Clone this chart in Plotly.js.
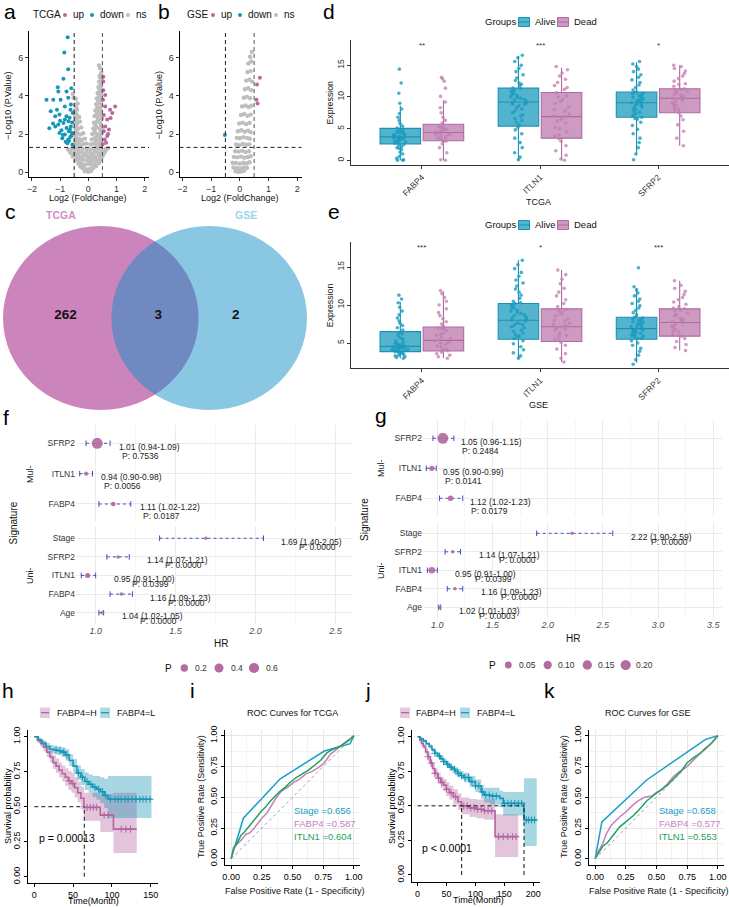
<!DOCTYPE html>
<html>
<head>
<meta charset="utf-8">
<script src="https://cdn.plot.ly/plotly-3.0.1.min.js"></script>
<style>
html,body{margin:0;padding:0;background:#ffffff;}
#fig{width:729px;height:907px;}
</style>
</head>
<body>
<div id="fig"></div>
<script>
/* ================= DATA ================= */
// a/b volcano
const fcCut = 0.5, pCut = 0.05;
const tcgaDownX = [-0.73,-0.85,-0.71,-0.88,-1.08,-1.06,-1.24,-1.48,-1.33,-0.98,-0.77,-0.60,-0.71,-0.83,-1.11,-1.17,-1.02,-1.06,-1.02,-1.17,-0.83,-0.65,-0.71,-0.88,-0.77,-0.63,-0.62,-0.68,-0.60,-0.95,-0.77,-0.83,-0.70,-0.56,-0.58,-0.66,-0.74,-0.92,-1.25,-1.38,-0.55,-0.62,-0.69,-0.57,-0.64,-0.80,-0.90,-1.00];
const tcgaDownY = [7.07,6.27,5.40,4.90,4.45,4.23,3.80,3.80,3.20,3.80,4.23,4.40,3.90,3.45,3.28,2.93,3.02,2.50,2.06,2.40,1.98,2.24,1.72,2.58,2.93,3.28,2.40,1.64,1.90,2.20,2.32,2.76,2.67,1.45,2.05,2.85,1.52,1.78,2.55,2.30,3.10,3.55,2.15,2.60,1.85,1.60,1.95,2.70];
const tcgaUpX = [0.53,0.53,0.53,0.77,0.95,0.60,0.55,0.67,0.60,0.55,0.73,0.67,0.58,0.63,0.51,0.79,0.52,0.60,0.70,0.85];
const tcgaUpY = [5.00,4.76,4.30,3.28,3.45,3.45,3.00,2.76,2.40,2.15,2.24,1.90,1.72,1.55,1.46,2.84,3.80,4.05,2.00,3.10];
const tcgaNsX = [-0.12,0.00,0.10,-0.05,0.06,-0.20,0.18,-0.28,0.28,
 -0.35,-0.22,-0.10,0.02,0.14,0.26,0.38,-0.45,-0.32,-0.18,-0.05,0.08,0.20,0.33,0.46,
 -0.55,-0.42,-0.28,-0.15,-0.02,0.12,0.25,0.38,0.50,-0.62,-0.48,-0.35,-0.22,-0.08,0.05,0.18,0.31,0.44,0.57,
 -0.72,-0.60,-0.47,-0.34,-0.20,-0.06,0.08,0.21,0.34,0.47,0.62,0.70,
 -0.48,-0.38,-0.27,-0.16,-0.06,0.08,0.18,0.29,0.40,0.49,-0.45,-0.34,-0.22,-0.12,0.12,0.23,0.34,0.45,
 -0.49,-0.39,-0.28,-0.18,0.14,0.25,0.36,0.47,-0.46,-0.36,-0.25,0.18,0.29,0.40,0.49,
 -0.48,-0.38,-0.30,0.20,0.31,0.42,-0.47,-0.39,-0.32,0.22,0.33,0.44,0.49,
 -0.48,-0.40,0.25,0.35,0.45,-0.46,-0.38,0.28,0.38,0.47,
 -0.52,-0.44,0.30,0.40,0.48,-0.55,0.33,0.43,
 0.36,0.45,0.38,0.47,0.40,0.46,0.42,0.38,
 -0.08,0.05,0.15,-0.15,-0.30,0.30,0.42,-0.40,-0.25,0.00,0.15,-0.50,0.52,-0.66,0.60,-0.55,-0.42,0.44,0.30,-0.43,-0.30,0.28,0.40,-0.44,0.30,0.42,-0.42,0.22,0.44,-0.42,0.25,0.46,-0.43,0.36,-0.44,0.30,0.40,0.32,0.42,-0.43,0.35,0.44,0.38,0.46,0.40,0.43,0.44];
const tcgaNsY = [0.05,0.02,0.06,0.15,0.18,0.20,0.22,0.30,0.32,
 0.45,0.42,0.40,0.44,0.42,0.45,0.48,0.62,0.60,0.65,0.62,0.60,0.64,0.62,0.66,
 0.82,0.85,0.80,0.86,0.82,0.85,0.80,0.86,0.84,1.00,1.02,0.98,1.03,1.00,1.02,0.98,1.03,1.00,1.02,
 1.22,1.18,1.20,1.16,1.22,1.18,1.20,1.16,1.22,1.18,1.22,1.26,
 1.45,1.50,1.42,1.48,1.50,1.45,1.50,1.44,1.50,1.46,1.72,1.75,1.70,1.76,1.72,1.78,1.70,1.76,
 2.00,2.05,1.98,2.04,2.00,2.06,1.98,2.04,2.32,2.28,2.35,2.30,2.36,2.28,2.34,
 2.62,2.58,2.66,2.60,2.66,2.58,2.92,2.96,2.90,2.94,2.90,2.98,2.80,
 3.22,3.28,3.24,3.30,3.20,3.55,3.60,3.56,3.62,3.50,
 3.90,3.85,3.86,3.92,3.82,4.10,4.15,4.20,
 4.45,4.50,4.75,4.80,5.05,5.20,5.45,5.60,
 0.10,0.12,0.35,0.32,0.52,0.55,0.72,0.72,0.72,0.72,0.74,0.92,0.94,1.10,1.10,1.35,1.34,1.35,1.32,1.60,1.62,1.62,1.60,1.88,1.88,1.90,2.18,2.18,2.20,2.48,2.48,2.46,2.78,2.78,3.08,3.10,3.10,3.40,3.38,3.40,3.72,3.70,4.02,4.05,4.32,4.62,4.92];
const gseDownX = [-0.52], gseDownY = [1.95];
const gseUpX = [0.70,0.60,0.58,0.62], gseUpY = [4.95,4.60,3.80,3.60];
const gseNsX = [-0.15,-0.05,0.05,0.15,-0.22,-0.10,0.02,0.14,0.25,-0.25,-0.13,0.00,0.12,0.24,0.34,-0.20,-0.08,0.04,0.16,0.28,0.38,-0.16,-0.04,0.08,0.20,0.32,-0.13,-0.02,0.10,0.22,0.33,-0.10,0.01,0.13,0.25,0.35,-0.07,0.05,0.17,0.29,0.38,-0.02,0.10,0.22,0.34,0.04,0.15,0.27,0.38,0.08,0.20,0.31,0.40,0.14,0.25,0.36,0.18,0.29,0.40,0.22,0.33,0.43,0.27,0.38,0.30,0.40,0.36,0.42];
const gseNsY = [0.05,0.02,0.04,0.08,0.25,0.22,0.20,0.25,0.22,0.50,0.48,0.45,0.50,0.46,0.52,0.80,0.78,0.82,0.76,0.80,0.84,1.10,1.08,1.12,1.06,1.10,1.45,1.42,1.48,1.44,1.46,1.80,1.78,1.84,1.80,1.76,2.15,2.20,2.12,2.18,2.10,2.55,2.60,2.52,2.58,3.00,3.05,2.96,3.02,3.45,3.50,3.42,3.48,3.90,3.95,3.88,4.35,4.40,4.30,4.80,4.85,4.75,5.25,5.30,5.70,5.80,6.05,6.30];

// c venn
const vennSets = ['TCGA', 'GSE'];
const vennCounts = [262, 3, 2]; // TCGA only, both, GSE only

// d/e boxplots
const genes = ['FABP4', 'ITLN1', 'SFRP2'];
const tcgaAliveQ1 = [2.6, 5.4, 6.8], tcgaAliveMed = [3.7, 9.2, 9.1], tcgaAliveQ3 = [5.05, 11.4, 10.8], tcgaAliveLo = [0, 0.1, 0.9], tcgaAliveHi = [8.6, 16.5, 15.5];
const tcgaDeadQ1 = [3.1, 3.5, 7.5], tcgaDeadMed = [4.4, 6.9, 9.8], tcgaDeadQ3 = [5.7, 10.7, 11.3], tcgaDeadLo = [0, 0, 2.3], tcgaDeadHi = [9.5, 14.6, 15.0];
const gseAliveQ1 = [3.86, 5.5, 5.5], gseAliveMed = [4.56, 8.0, 6.9], gseAliveQ3 = [6.5, 10.2, 8.4], gseAliveLo = [3.0, 3.0, 2.4], gseAliveHi = [10.4, 15.9, 12.2];
const gseDeadQ1 = [3.95, 5.2, 5.9], gseDeadMed = [5.35, 7.15, 7.7], gseDeadQ3 = [7.1, 9.5, 9.5], gseDeadLo = [3.0, 2.5, 4.0], gseDeadHi = [11.8, 14.6, 13.2];
const tcgaFabp4Alive = [0,0,0.1,0.3,0.6,1.0,1.3,1.7,1.9,2.2,2.5,2.7,2.9,3.1,3.3,3.5,3.6,3.7,3.8,3.9,4.1,4.3,4.5,4.7,4.9,5.1,5.4,5.8,6.3,6.8,7.4,8.1,9.0,10.6,12.2,14.4,2.8,3.0,3.2,3.4,3.55,3.65,3.75,3.85,4.0,4.2,4.4,4.6,2.4,2.0];
const tcgaFabp4Dead = [0,0.1,1.2,2.0,2.6,3.0,3.2,3.5,3.8,4.0,4.2,4.4,4.6,4.8,5.0,5.3,5.6,5.9,6.3,6.8,7.5,8.3,9.2,10.1,11.4,12.5,12.9,13.1,3.3,3.7,4.1,4.5,4.9,5.2,3.0,4.3];
const tcgaItln1Alive = [0.1,0.5,1.2,2.0,2.8,3.5,4.2,4.8,5.2,5.6,6.0,6.6,7.2,7.8,8.3,8.8,9.1,9.3,9.6,9.9,10.2,10.5,10.8,11.1,11.4,11.8,12.2,12.6,13.0,13.5,14.0,14.5,15.0,15.6,16.2,16.6,6.3,7.0,7.5,8.1,8.6,9.0,9.5,10.0,10.4,10.9,11.3,9.8,8.9,12.0];
const tcgaItln1Dead = [0,0.2,0.8,1.5,2.3,3.0,3.4,3.8,4.5,5.2,5.9,6.5,6.9,7.3,7.8,8.4,9.0,9.6,10.2,10.7,11.2,11.8,12.3,12.8,13.3,13.8,14.3,14.8,4.0,5.0,6.2,7.0,8.0,9.3,10.0,11.5];
const tcgaSfrp2Alive = [0.1,1.0,2.0,2.8,3.5,4.2,4.9,5.5,6.0,6.5,6.8,7.2,7.6,8.0,8.4,8.7,9.0,9.2,9.4,9.7,10.0,10.3,10.6,10.8,11.1,11.5,11.9,12.3,12.7,13.1,13.5,14.0,14.4,14.8,15.2,15.6,7.0,7.4,7.8,8.2,8.6,8.9,9.1,9.3,9.6,9.9,10.2,10.5,10.7,6.6];
const tcgaSfrp2Dead = [2.3,3.5,4.6,5.6,6.4,7.0,7.5,7.9,8.3,8.7,9.1,9.5,9.8,10.1,10.4,10.7,11.0,11.3,11.7,12.1,12.5,12.9,13.3,13.7,14.1,14.5,14.8,15.0,8.0,8.8,9.3,9.9,10.3,10.9,11.2,12.0];
const gseFabp4Alive = [3.0,3.1,3.2,3.4,3.5,3.6,3.7,3.8,3.9,4.0,4.1,4.2,4.3,4.4,4.5,4.6,4.7,4.9,5.1,5.3,5.5,5.8,6.1,6.4,6.7,7.0,7.3,7.6,7.9,8.3,8.7,9.2,9.7,10.3,10.8,11.3,3.85,3.95,4.05,4.15,4.25,4.35,4.45,4.55,4.65,4.8,5.0,5.6,6.2,3.3];
const gseFabp4Dead = [3.0,3.2,3.4,3.6,3.8,4.0,4.2,4.5,4.8,5.1,5.4,5.7,6.0,6.3,6.6,6.9,7.2,7.5,7.8,8.2,8.6,9.0,9.5,10.0,10.5,11.0,11.5,11.9,4.1,4.6,5.0,5.3,5.6,6.1,6.8,7.0];
const gseItln1Alive = [3.0,3.3,3.7,4.1,4.5,4.9,5.3,5.6,5.9,6.3,6.7,7.0,7.3,7.6,7.9,8.1,8.4,8.7,9.0,9.3,9.6,9.9,10.2,10.5,10.9,11.3,11.7,12.1,12.5,12.9,13.3,13.8,14.3,14.8,15.3,15.9,5.8,6.5,7.1,7.6,8.0,8.3,8.6,8.9,9.2,9.6,10.0,10.3,7.4,6.1];
const gseItln1Dead = [2.5,3.0,3.6,4.2,4.7,5.1,5.5,5.9,6.3,6.7,7.0,7.3,7.6,7.9,8.2,8.6,9.0,9.4,9.8,10.2,10.7,11.2,11.7,12.2,12.8,13.4,14.0,14.6,5.4,6.0,6.8,7.1,7.5,8.0,8.8,9.2];
const gseSfrp2Alive = [2.2,2.8,3.4,3.9,4.3,4.7,5.0,5.3,5.6,5.8,6.0,6.2,6.4,6.6,6.8,7.0,7.2,7.4,7.6,7.8,8.0,8.2,8.4,8.7,9.0,9.3,9.6,9.9,10.2,10.5,10.8,11.2,11.6,12.0,12.4,14.9,5.6,5.9,6.1,6.3,6.5,6.7,6.9,7.1,7.3,7.5,7.7,7.9,8.1,8.3];
const gseSfrp2Dead = [4.0,4.4,4.8,5.2,5.6,5.9,6.2,6.5,6.8,7.1,7.4,7.7,8.0,8.3,8.6,8.9,9.2,9.5,9.8,10.1,10.4,10.7,11.0,11.4,11.8,12.2,12.6,13.2,6.0,6.6,7.2,7.8,8.1,8.7,9.3,9.6];
const tcgaSig = ['**', '***', '*'];
const gseSig = ['***', '*', '***'];

// f/g forest
const mulNames = ['FABP4', 'ITLN1', 'SFRP2'];
const uniNames = ['Age', 'FABP4', 'ITLN1', 'SFRP2', 'Stage'];
const fMulHR = [1.11, 0.94, 1.01], fMulLo = [1.02, 0.90, 0.94], fMulHi = [1.22, 0.98, 1.09], fMulP = [0.0187, 0.0056, 0.7536];
const fUniHR = [1.04, 1.16, 0.95, 1.14, 1.69], fUniLo = [1.02, 1.09, 0.91, 1.07, 1.40], fUniHi = [1.05, 1.23, 1.00, 1.21, 2.05], fUniP = [0.0000, 0.0000, 0.0399, 0.0000, 0.0000];
const gMulHR = [1.12, 0.95, 1.05], gMulLo = [1.02, 0.90, 0.96], gMulHi = [1.23, 0.99, 1.15], gMulP = [0.0179, 0.0141, 0.2484];
const gUniHR = [1.02, 1.16, 0.95, 1.14, 2.22], gUniLo = [1.01, 1.09, 0.91, 1.07, 1.90], gUniHi = [1.03, 1.23, 1.00, 1.21, 2.59], gUniP = [0.0003, 0.0000, 0.0399, 0.0000, 0.0000];
const fLegendP = [0.2, 0.4, 0.6];
const gLegendP = [0.05, 0.10, 0.15, 0.20];

// h/j Kaplan-Meier
const tcgaHT = [0,4,8,12,16,20,24,28,32,36,40,44,48,52,56,60,64,85,102,132];
const tcgaHS = [1,0.975,0.95,0.925,0.89,0.855,0.815,0.79,0.76,0.735,0.71,0.685,0.665,0.635,0.60,0.56,0.495,0.44,0.34,0.34];
const tcgaHLo = [1,0.955,0.925,0.895,0.855,0.815,0.77,0.74,0.71,0.68,0.65,0.62,0.60,0.565,0.53,0.48,0.40,0.32,0.17,0.17];
const tcgaHHi = [1,0.995,0.98,0.96,0.93,0.9,0.865,0.845,0.815,0.795,0.775,0.755,0.74,0.71,0.68,0.645,0.6,0.59,0.6,0.6];
const tcgaLT = [0,5,10,15,20,25,30,35,40,45,50,55,60,65,70,75,80,85,90,95,151];
const tcgaLS = [1,0.975,0.955,0.93,0.91,0.905,0.9,0.89,0.87,0.83,0.79,0.74,0.71,0.68,0.66,0.64,0.625,0.607,0.58,0.553,0.553];
const tcgaLLo = [1,0.96,0.935,0.905,0.885,0.875,0.87,0.855,0.83,0.79,0.74,0.69,0.655,0.62,0.6,0.57,0.55,0.525,0.49,0.42,0.42];
const tcgaLHi = [1,0.99,0.975,0.955,0.94,0.935,0.93,0.925,0.91,0.875,0.84,0.795,0.77,0.745,0.73,0.72,0.72,0.71,0.7,0.72,0.72];
const tcgaHCens = [45,50,68,72,76,80,90,95,112,118,124];
const tcgaLCens = [28,33,38,42,57,62,68,73,78,83,88,92,98,104,108,112,117,121,126,131,136,140,144,149];
const tcgaMedianH = 64.4;
const gseHT = [0,4,7,10,14,18,22,26,30,35,40,45,50,55,62,70,76,90,102,115,134,174];
const gseHS = [1,0.975,0.952,0.93,0.89,0.855,0.81,0.77,0.735,0.70,0.67,0.65,0.62,0.595,0.566,0.53,0.499,0.485,0.475,0.465,0.277,0.277];
const gseHLo = [1,0.96,0.935,0.91,0.865,0.825,0.78,0.735,0.70,0.66,0.63,0.605,0.57,0.545,0.51,0.47,0.44,0.42,0.41,0.40,0.13,0.13];
const gseHHi = [1,0.99,0.97,0.95,0.915,0.885,0.84,0.805,0.77,0.74,0.71,0.695,0.67,0.645,0.62,0.59,0.56,0.55,0.545,0.55,0.44,0.44];
const gseLT = [0,5,10,15,20,25,30,35,40,45,50,55,60,65,70,75,80,90,100,110,115,125,142,148,184,206];
const gseLS = [1,0.985,0.97,0.95,0.93,0.905,0.88,0.86,0.84,0.82,0.80,0.78,0.765,0.75,0.735,0.72,0.705,0.675,0.645,0.60,0.578,0.57,0.554,0.518,0.398,0.398];
const gseLLo = [1,0.975,0.96,0.94,0.915,0.89,0.865,0.84,0.82,0.80,0.775,0.755,0.74,0.72,0.705,0.69,0.67,0.635,0.60,0.55,0.525,0.51,0.49,0.43,0.21,0.21];
const gseLHi = [1,0.995,0.98,0.96,0.945,0.92,0.895,0.88,0.86,0.84,0.825,0.805,0.79,0.78,0.765,0.75,0.74,0.715,0.69,0.65,0.63,0.63,0.61,0.60,0.70,0.70];
const gseHCens = [18,24,30,36,42,50,58,66,80,86,92,98,104,110,116,122,128,140,148,156,164,170];
const gseLCens = [30,38,45,52,58,64,70,76,82,88,94,100,106,112,118,124,130,136,150,156,162,168,174,180,188,192,197,202];
const gseMedianH = 76.3, gseMedianL = 184;
const tcgaP = 'p = 0.00013', gseP = 'p < 0.0001';

// i/k ROC
const tcgaStageFpr = [0, 0.10, 0.40, 0.76, 0.97, 1.0], tcgaStageTpr = [0, 0.33, 0.65, 0.875, 0.935, 1.0];
const tcgaFabp4Fpr = [0,0.02,0.04,0.06,0.09,0.12,0.15,0.18,0.21,0.25,0.29,0.33,0.37,0.41,0.46,0.51,0.56,0.61,0.66,0.71,0.76,0.81,0.86,0.91,0.96,1.0];
const tcgaFabp4Tpr = [0,0.08,0.11,0.13,0.16,0.20,0.21,0.24,0.28,0.33,0.37,0.44,0.50,0.55,0.58,0.62,0.65,0.69,0.71,0.74,0.78,0.85,0.89,0.93,0.97,1.0];
const tcgaItln1Fpr = [0,0.02,0.05,0.08,0.11,0.14,0.17,0.20,0.24,0.28,0.32,0.36,0.40,0.44,0.48,0.53,0.58,0.63,0.68,0.73,0.78,0.83,0.88,0.93,0.97,1.0];
const tcgaItln1Tpr = [0,0.09,0.13,0.19,0.22,0.26,0.30,0.33,0.38,0.42,0.47,0.51,0.55,0.58,0.62,0.66,0.69,0.72,0.76,0.80,0.86,0.89,0.91,0.94,0.97,1.0];
const gseStageFpr = [0, 0.055, 0.42, 0.90, 1.0], gseStageTpr = [0, 0.30, 0.64, 0.97, 1.0];
const gseFabp4Fpr = [0,0.03,0.06,0.09,0.13,0.17,0.21,0.25,0.30,0.35,0.40,0.46,0.50,0.54,0.59,0.64,0.69,0.75,0.80,0.86,0.91,0.96,1.0];
const gseFabp4Tpr = [0,0.07,0.12,0.20,0.27,0.31,0.35,0.38,0.43,0.47,0.50,0.51,0.54,0.56,0.61,0.67,0.71,0.75,0.80,0.86,0.90,0.95,1.0];
const gseItln1Fpr = [0,0.03,0.06,0.10,0.14,0.20,0.25,0.31,0.36,0.42,0.47,0.54,0.59,0.64,0.70,0.75,0.80,0.86,0.91,0.94,1.0];
const gseItln1Tpr = [0,0.05,0.10,0.13,0.18,0.26,0.30,0.35,0.40,0.47,0.51,0.56,0.60,0.65,0.71,0.78,0.82,0.86,0.91,0.93,1.0];
const rocLabels = ['Stage', 'FABP4', 'ITLN1'];
const tcgaAuc = [0.656, 0.587, 0.604];
const gseAuc = [0.658, 0.577, 0.553];

/* ================= DRAWING ================= */
const FONT = 'Liberation Sans, Arial, sans-serif';
const W = 729, H = 907;
const px = v => v / W;
const py = v => 1 - v / H;
const fnt = (size, color, extra) => Object.assign({family: FONT, size: size, color: color || '#000'}, extra || {});

const C_UP = '#B8679F', C_DOWN = '#1597B9', C_NS = '#BEBEBE';
const C_ALIVE = '#1A9BC0';
const C_H = '#B4649F', C_L = '#1796B6';
const C_ERR = '#4B4BB8', C_PT = '#B36BA1';
const rocColors = ['#1C9CC8', '#C482BA', '#1EA25E'];

const traces = [], annotations = [], shapes = [];
function note(text, x, y, font, extra) {
  annotations.push(Object.assign({text: text, xref: 'paper', yref: 'paper', x: px(x), y: py(y), showarrow: false, xanchor: 'center', yanchor: 'middle', font: font}, extra || {}));
}
function dot(cx, cy, d, color) {
  shapes.push({type: 'circle', xref: 'paper', yref: 'paper', x0: px(cx - d / 2), x1: px(cx + d / 2), y0: py(cy + d / 2), y1: py(cy - d / 2), fillcolor: color, line: {width: 0}});
}
function rect(x0, y0, x1, y1, fill, lineColor, lw) {
  shapes.push({type: 'rect', xref: 'paper', yref: 'paper', x0: px(x0), x1: px(x1), y0: py(y1), y1: py(y0), fillcolor: fill, line: {width: lw || 0, color: lineColor || fill}});
}
function hseg(x0, x1, y, color, w) {
  shapes.push({type: 'line', xref: 'paper', yref: 'paper', x0: px(x0), x1: px(x1), y0: py(y), y1: py(y), line: {color: color, width: w || 1}});
}
function axis(d0, d1, isY, extra) {
  return Object.assign({
    domain: isY ? [py(d1), py(d0)] : [px(d0), px(d1)],
    showgrid: false, zeroline: false, showline: true, linecolor: '#000', linewidth: 1,
    ticks: 'outside', ticklen: 3, tickwidth: 1, tickcolor: '#333',
    tickfont: fnt(9, '#333'), fixedrange: true
  }, extra || {});
}

const layout = {
  width: W, height: H, margin: {l: 0, r: 0, t: 0, b: 0},
  paper_bgcolor: '#ffffff', plot_bgcolor: 'rgba(0,0,0,0)',
  showlegend: false, hovermode: false, font: {family: FONT},
  boxmode: 'group', boxgap: 0.27, boxgroupgap: 0.06
};

/* ---- panel letters ---- */
[['a', 10, 11], ['b', 164, 11], ['d', 329, 11], ['c', 10, 211], ['e', 334, 211], ['f', 6, 417], ['g', 381, 415], ['h', 8, 690], ['i', 193, 690], ['j', 368, 690], ['k', 549, 690]]
  .forEach(l => note(l[0], l[1], l[2], fnt(21, '#000')));

/* ---- a / b volcano ---- */
function volcano(sfx, dom, nsX, nsY, dnX, dnY, upX, upY, setName, legX) {
  const xa = 'x' + sfx, ya = 'y' + sfx;
  layout['xaxis' + sfx] = axis(dom[0], dom[1], false, {anchor: ya, range: [-2.1, 2.15], tickvals: [-2, -1, 0, 1, 2], ticktext: ['\u22122', '\u22121', '0', '1', '2']});
  layout['yaxis' + sfx] = axis(31, 177, true, {anchor: xa, range: [-0.25, 7.4], tickvals: [0, 2, 4, 6], ticktext: ['0', '2', '4', '6']});
  [[nsX, nsY, C_NS, 4.4], [dnX, dnY, C_DOWN, 4], [upX, upY, C_UP, 4]].forEach(s => traces.push({
    type: 'scatter', mode: 'markers', x: s[0], y: s[1], xaxis: xa, yaxis: ya, marker: {size: s[3], color: s[2]}, cliponaxis: true
  }));
  const dash = {color: '#222', width: 1, dash: '4px,3px'};
  shapes.push({type: 'line', xref: xa, yref: ya + ' domain', x0: -fcCut, x1: -fcCut, y0: 0, y1: 1, line: dash});
  shapes.push({type: 'line', xref: xa, yref: ya + ' domain', x0: fcCut, x1: fcCut, y0: 0, y1: 1, line: {color: '#555', width: 1, dash: '4px,3px'}});
  const hy = -Math.log10(pCut);
  shapes.push({type: 'line', xref: xa + ' domain', yref: ya, x0: 0, x1: 1, y0: hy, y1: hy, line: dash});
  note('Log2 (FoldChange)', (dom[0] + dom[1]) / 2 - 1, 198, fnt(9, '#111'));
  note('\u2212Log10 (P.Value)', dom[0] - 21, 106, fnt(9, '#111'), {textangle: -90});
  const L = legX;
  note(setName, L, 15, fnt(10, '#111'), {xanchor: 'left'});
  const items = [['up', C_UP], ['down', C_DOWN], ['ns', C_NS]];
  let x = L + (setName.length > 3 ? 34 : 28);
  items.forEach(it => {
    dot(x, 15, 4, it[1]);
    note(it[0], x + 6, 15, fnt(10, '#111'), {xanchor: 'left'});
    x += it[0] === 'down' ? 36 : (it[0] === 'up' ? 27 : 30);
  });
}
volcano('', [29, 149], tcgaNsX, tcgaNsY, tcgaDownX, tcgaDownY, tcgaUpX, tcgaUpY, 'TCGA', 31);
volcano('2', [179.5, 301.5], gseNsX, gseNsY, gseDownX, gseDownY, gseUpX, gseUpY, 'GSE', 185);

/* ---- c venn ---- */
layout.xaxis3 = {domain: [0, px(310)], range: [0, 310], visible: false, fixedrange: true, anchor: 'y3'};
layout.yaxis3 = {domain: [py(425), py(205)], range: [425, 205], visible: false, fixedrange: true, anchor: 'x3'};
const venn = {cx: [100.8, 209.2], cy: 318, rx: 97.8, ry: 92};
shapes.push({type: 'circle', xref: 'x3', yref: 'y3', x0: venn.cx[0] - venn.rx, x1: venn.cx[0] + venn.rx, y0: venn.cy - venn.ry, y1: venn.cy + venn.ry, fillcolor: 'rgb(153,10,121)', opacity: 0.5, line: {width: 0}, layer: 'below'});
shapes.push({type: 'circle', xref: 'x3', yref: 'y3', x0: venn.cx[1] - venn.rx, x1: venn.cx[1] + venn.rx, y0: venn.cy - venn.ry, y1: venn.cy + venn.ry, fillcolor: 'rgb(19,143,197)', opacity: 0.5, line: {width: 0}, layer: 'below'});
traces.push({type: 'scatter', mode: 'text', x: [65.5, 158.3, 235.7], y: [316, 316, 316], xaxis: 'x3', yaxis: 'y3',
  text: vennCounts.map(v => '<b>' + v + '</b>'), textfont: fnt(13.5, '#111'), textposition: 'middle center'});
note('<b>' + vennSets[0] + '</b>', 61, 215, fnt(10.5, '#D28DC4'));
note('<b>' + vennSets[1] + '</b>', 246, 215, fnt(10.5, '#9ED3EA'));

/* ---- d / e boxplots ---- */
function boxPanel(sfx, dY, yRange, yTicks, aQ1, aMed, aQ3, aLo, aHi, dQ1, dMed, dQ3, dLo, dHi, aPts, dPts, sig, sigY, title, titleY, legendY) {
  const xa = 'x' + sfx, ya = 'y' + sfx;
  layout['xaxis' + sfx] = axis(351, 729, false, {anchor: ya, type: 'category', categoryorder: 'array', categoryarray: genes, range: [-0.6, 2.6], tickangle: -45, linecolor: '#333', tickfont: fnt(8.5, '#333')});
  layout['yaxis' + sfx] = axis(dY[0], dY[1], true, {anchor: xa, range: yRange, tickvals: yTicks, tickangle: -90, linecolor: '#333', tickfont: fnt(8.5, '#333')});
  const stat = (q1, med, q3, lo, hi, og, fill, line) => traces.push({type: 'box', x: genes, q1: q1, median: med, q3: q3, lowerfence: lo, upperfence: hi,
    xaxis: xa, yaxis: ya, offsetgroup: og, fillcolor: fill, line: {color: line, width: 1.1}, whiskerwidth: 0, boxpoints: false});
  const pts = (arrs, og, color, op) => traces.push({type: 'box', x: genes.flatMap((g, i) => arrs[i].map(() => g)), y: arrs.flat(),
    xaxis: xa, yaxis: ya, offsetgroup: og, boxpoints: 'all', jitter: 0.42, pointpos: 0, fillcolor: 'rgba(0,0,0,0)',
    line: {width: 0, color: 'rgba(0,0,0,0)'}, whiskerwidth: 0, marker: {size: 3.6, color: color, opacity: op, line: {width: 0}}});
  stat(aQ1, aMed, aQ3, aLo, aHi, 'A', 'rgba(27,155,190,0.75)', '#1892B3');
  stat(dQ1, dMed, dQ3, dLo, dHi, 'D', 'rgba(181,107,163,0.68)', '#B06A9F');
  pts(aPts, 'A', C_ALIVE, 0.8);
  pts(dPts, 'D', '#C07CB2', 0.75);
  genes.forEach((g, i) => annotations.push({xref: xa, yref: ya, x: g, y: sigY, text: sig[i], showarrow: false, font: fnt(8, '#333'), yanchor: 'middle'}));
  note(title, 538, titleY, fnt(9, '#111'));
  note('Expression', 330, (dY[0] + dY[1]) / 2, fnt(8.8, '#111'), {textangle: -90});
  note('Groups', 483, legendY, fnt(9.5, '#111'), {xanchor: 'left'});
  [[518.5, 'Alive', 'rgba(27,155,190,0.75)', '#1892B3'], [557.5, 'Dead', 'rgba(181,107,163,0.68)', '#B06A9F']].forEach(k => {
    rect(k[0], legendY - 4.5, k[0] + 11, legendY + 4.5, k[2], k[3], 1);
    hseg(k[0], k[0] + 11, legendY, k[3], 1);
    note(k[1], k[0] + 14, legendY, fnt(9.5, '#111'), {xanchor: 'left'});
  });
}
boxPanel('4', [40, 165], [-0.74, 19], [0, 5, 10, 15], tcgaAliveQ1, tcgaAliveMed, tcgaAliveQ3, tcgaAliveLo, tcgaAliveHi,
  tcgaDeadQ1, tcgaDeadMed, tcgaDeadQ3, tcgaDeadLo, tcgaDeadHi,
  [tcgaFabp4Alive, tcgaItln1Alive, tcgaSfrp2Alive], [tcgaFabp4Dead, tcgaItln1Dead, tcgaSfrp2Dead], tcgaSig, 18.2, 'TCGA', 202, 22);
boxPanel('5', [242, 368.3], [1.67, 18.3], [5, 10, 15], gseAliveQ1, gseAliveMed, gseAliveQ3, gseAliveLo, gseAliveHi,
  gseDeadQ1, gseDeadMed, gseDeadQ3, gseDeadLo, gseDeadHi,
  [gseFabp4Alive, gseItln1Alive, gseSfrp2Alive], [gseFabp4Dead, gseItln1Dead, gseSfrp2Dead], gseSig, 17.6, 'GSE', 405, 225);

/* ---- f / g forest ---- */
const pSize = (p, pmax) => 3.5 + 7.5 * Math.sqrt(p / pmax);
function forestAxes(sfxM, sfxU, xDom, mulDom, uniDom, xRange) {
  const common = {range: xRange, showline: false, ticks: '', showgrid: true, gridcolor: '#EBEBEB', gridwidth: 1,
    tickvals: [1.0, 1.5, 2.0, 2.5, 3.0, 3.5], ticktext: ['1.0', '1.5', '2.0', '2.5', '3.0', '3.5'],
    minor: {tickvals: [1.25, 1.75, 2.25, 2.75, 3.25], showgrid: true, gridcolor: '#F4F4F4', gridwidth: 0.8},
    tickfont: fnt(9, '#4D4D4D', {style: 'italic'})};
  layout['xaxis' + sfxM] = axis(xDom[0], xDom[1], false, Object.assign({}, common, {anchor: 'y' + sfxM, showticklabels: false}));
  layout['xaxis' + sfxU] = axis(xDom[0], xDom[1], false, Object.assign({}, common, {anchor: 'y' + sfxU, showticklabels: true}));
  const yc = {type: 'category', showline: false, ticks: '', showgrid: true, gridcolor: '#EBEBEB', tickfont: fnt(8.5, '#333')};
  layout['yaxis' + sfxM] = axis(mulDom[0], mulDom[1], true, Object.assign({}, yc, {anchor: 'x' + sfxM, categoryorder: 'array', categoryarray: mulNames, range: [-0.6, 2.6]}));
  layout['yaxis' + sfxU] = axis(uniDom[0], uniDom[1], true, Object.assign({}, yc, {anchor: 'x' + sfxU, categoryorder: 'array', categoryarray: uniNames, range: [-0.6, 4.6]}));
}
function forestPanel(sfx, names, hr, lo, hi, p, pmax, s1, s2, dy2) {
  const xa = 'x' + sfx, ya = 'y' + sfx;
  const ex = [], ey = [];
  names.forEach((n, i) => { ex.push(lo[i], hi[i], null); ey.push(n, n, null); });
  traces.push({type: 'scatter', mode: 'lines+markers', x: ex, y: ey, xaxis: xa, yaxis: ya, connectgaps: false,
    line: {color: C_ERR, width: 1, dash: '3px,3px'}, marker: {symbol: 'line-ns-open', size: 4, color: C_ERR, line: {width: 1, color: C_ERR}}});
  traces.push({type: 'scatter', mode: 'markers', x: hr, y: names, xaxis: xa, yaxis: ya,
    marker: {size: p.map(v => pSize(v, pmax)), color: C_PT, opacity: 0.92, line: {width: 0}}});
  names.forEach((n, i) => {
    annotations.push({xref: xa, yref: ya, x: hi[i], y: n, xanchor: 'left', yanchor: 'middle', xshift: s1, yshift: -3.5, showarrow: false,
      text: hr[i].toFixed(2) + ' (' + lo[i].toFixed(2) + '-' + hi[i].toFixed(2) + ')', font: fnt(8.5, '#222')});
    annotations.push({xref: xa, yref: ya, x: hi[i], y: n, xanchor: 'left', yanchor: 'middle', xshift: s2, yshift: -dy2, showarrow: false,
      text: 'P: ' + p[i].toFixed(4), font: fnt(8.5, '#222')});
  });
}
forestAxes('6', '7', [76, 353], [425.1, 522.2], [527.1, 623.9], [0.877, 2.61]);
const fPmax = Math.max(...fMulP, ...fUniP);
forestPanel('6', mulNames, fMulHR, fMulLo, fMulHi, fMulP, fPmax, 7, 10, 12.5);
forestPanel('7', uniNames, fUniHR, fUniLo, fUniHi, fUniP, fPmax, 16, 34, 8.5);
note('Signature', 12.5, 523, fnt(10, '#111'), {textangle: -90});
note('Mul-', 30, 474, fnt(9, '#222'), {textangle: -90});
note('Uni-', 30, 576, fnt(9, '#222'), {textangle: -90});
note('HR', 221, 643, fnt(10, '#111'));
note('P', 168, 668, fnt(10, '#111'));
[[184.3, 193], [219, 229], [254, 264]].forEach((pos, i) => {
  dot(pos[0], 668, pSize(fLegendP[i], fPmax), C_PT);
  note(String(fLegendP[i]), pos[1], 668, fnt(8.5, '#333'), {xanchor: 'left'});
});
forestAxes('8', '9', [423, 722], [420.3, 516.3], [522.2, 618.4], [0.87, 3.58]);
const gPmax = Math.max(...gMulP, ...gUniP);
forestPanel('8', mulNames, gMulHR, gMulLo, gMulHi, gMulP, gPmax, 5, 6.5, 12.5);
forestPanel('9', uniNames, gUniHR, gUniLo, gUniHi, gUniP, gPmax, 16, 36, 8.5);
note('Signature', 364, 520, fnt(10, '#111'), {textangle: -90});
note('Mul-', 381, 468, fnt(9, '#222'), {textangle: -90});
note('Uni-', 381, 570, fnt(9, '#222'), {textangle: -90});
note('HR', 573, 638, fnt(10, '#111'));
note('P', 492, 665, fnt(10, '#111'));
[[508.3, 517], [547.7, 556], [587.3, 596], [625.7, 634]].forEach((pos, i) => {
  dot(pos[0], 665, pSize(gLegendP[i], gPmax), C_PT);
  note(gLegendP[i].toFixed(2), pos[1], 665, fnt(8.5, '#333'), {xanchor: 'left'});
});

/* ---- h / j Kaplan-Meier ---- */
const stepAt = (t, s, x) => { let v = s[0]; t.forEach((ti, i) => { if (ti <= x) v = s[i]; }); return v; };
function kmPanel(sfx, xDom, yDom, xRange, yRange, xTicks, groups, medians, pText, pPos, yTitleX, xTitlePos, legX) {
  const xa = 'x' + sfx, ya = 'y' + sfx;
  layout['xaxis' + sfx] = axis(xDom[0], xDom[1], false, {anchor: ya, range: xRange, tickvals: xTicks, tickfont: fnt(9, '#000'), tickcolor: '#000'});
  layout['yaxis' + sfx] = axis(yDom[0], yDom[1], true, {anchor: xa, range: yRange, tickvals: [0, 0.25, 0.5, 0.75, 1], ticktext: ['0.00', '0.25', '0.50', '0.75', '1.00'], tickangle: -90, tickfont: fnt(9, '#000'), tickcolor: '#000'});
  groups.forEach(g => {
    traces.push({type: 'scatter', mode: 'lines', x: g.t, y: g.lo, xaxis: xa, yaxis: ya, line: {width: 0, shape: 'hv', color: g.c}});
    traces.push({type: 'scatter', mode: 'lines', x: g.t, y: g.hi, xaxis: xa, yaxis: ya, line: {width: 0, shape: 'hv', color: g.c}, fill: 'tonexty', fillcolor: g.fill});
  });
  groups.forEach(g => {
    traces.push({type: 'scatter', mode: 'lines', x: g.t, y: g.s, xaxis: xa, yaxis: ya, line: {width: 1.6, shape: 'hv', color: g.c}});
    traces.push({type: 'scatter', mode: 'markers', x: g.cens, y: g.cens.map(v => stepAt(g.t, g.s, v)), xaxis: xa, yaxis: ya,
      marker: {symbol: 'cross-thin-open', size: 5, color: g.c, line: {width: 1, color: g.c}}});
  });
  const dash = {color: '#111', width: 1, dash: '4px,3px'};
  const mx = Math.max(...medians);
  shapes.push({type: 'line', xref: xa, yref: ya, x0: 0, x1: mx, y0: 0.5, y1: 0.5, line: dash});
  medians.forEach(m => shapes.push({type: 'line', xref: xa, yref: ya, x0: m, x1: m, y0: 0, y1: 0.5, line: dash}));
  note(pText, pPos[0], pPos[1], fnt(10.5, '#000'), {xanchor: 'left'});
  note('Survival probability', yTitleX, 806, fnt(9, '#000'), {textangle: -90});
  note('Time(Month)', xTitlePos[0], xTitlePos[1], fnt(9, '#000'));
  [[legX, 'FABP4=H', 'rgba(180,100,160,0.35)', C_H], [legX + 60, 'FABP4=L', 'rgba(23,150,182,0.35)', C_L]].forEach(k => {
    rect(k[0], 707.5, k[0] + 10, 718, k[2]);
    hseg(k[0] + 1, k[0] + 9, 712.7, k[3], 1.3);
    note(k[1], k[0] + 14.5, 712.7, fnt(9, '#111'), {xanchor: 'left'});
  });
}
kmPanel('10', [27.7, 158], [729.7, 883.3], [-8.5, 159.4], [-0.047, 1.05], [0, 50, 100, 150], [
  {t: tcgaHT, s: tcgaHS, lo: tcgaHLo, hi: tcgaHHi, cens: tcgaHCens, c: C_H, fill: 'rgba(180,100,160,0.38)'},
  {t: tcgaLT, s: tcgaLS, lo: tcgaLLo, hi: tcgaLHi, cens: tcgaLCens, c: C_L, fill: 'rgba(23,150,182,0.38)'}
], [tcgaMedianH], tcgaP, [37, 838], 8, [93, 901], 40);
kmPanel('12', [411.7, 540], [729.8, 882.3], [-10, 211.6], [-0.053, 1.05], [0, 50, 100, 150, 200], [
  {t: gseHT, s: gseHS, lo: gseHLo, hi: gseHHi, cens: gseHCens, c: C_H, fill: 'rgba(180,100,160,0.38)'},
  {t: gseLT, s: gseLS, lo: gseLLo, hi: gseLHi, cens: gseLCens, c: C_L, fill: 'rgba(23,150,182,0.38)'}
], [gseMedianH, gseMedianL], gseP, [420, 848], 392, [478, 900], 400);

/* ---- i / k ROC ---- */
function rocPanel(sfx, xDom, curves, auc, title, titleX, yTitleX, annX) {
  const xa = 'x' + sfx, ya = 'y' + sfx;
  const common = {range: [-0.05, 1.05], tickvals: [0, 0.25, 0.5, 0.75, 1], ticktext: ['0.00', '0.25', '0.50', '0.75', '1.00'],
    showgrid: true, gridcolor: '#E6E6E6', minor: {tickvals: [0.125, 0.375, 0.625, 0.875], showgrid: true, gridcolor: '#F3F3F3'},
    tickfont: fnt(9, '#000'), tickcolor: '#000'};
  layout['xaxis' + sfx] = axis(xDom[0], xDom[1], false, Object.assign({}, common, {anchor: ya}));
  layout['yaxis' + sfx] = axis(729.5, 865, true, Object.assign({}, common, {anchor: xa, tickangle: -90}));
  shapes.push({type: 'line', xref: xa, yref: ya, x0: 0, y0: 0, x1: 1, y1: 1, line: {color: '#A0A0A0', width: 1, dash: '3px,3px'}});
  curves.forEach((c, i) => traces.push({type: 'scatter', mode: 'lines', x: c[0], y: c[1], xaxis: xa, yaxis: ya, line: {color: rocColors[i], width: 1.5}}));
  rocLabels.forEach((lab, i) => note(lab + ' =' + auc[i].toFixed(3), annX, 810 + 13 * i, fnt(9.5, rocColors[i]), {xanchor: 'left'}));
  note(title, titleX, 713, fnt(9, '#111'));
  note('True Positive Rate (Sensitivity)', yTitleX, 797, fnt(9, '#111'), {textangle: -90});
  note('False Positive Rate (1 - Specificity)', (xDom[0] + xDom[1]) / 2 + 2, 891, fnt(9, '#111'));
}
rocPanel('11', [225, 360], [[tcgaStageFpr, tcgaStageTpr], [tcgaFabp4Fpr, tcgaFabp4Tpr], [tcgaItln1Fpr, tcgaItln1Tpr]], tcgaAuc, 'ROC Curves for TCGA', 292, 201, 292);
rocPanel('13', [589, 724], [[gseStageFpr, gseStageTpr], [gseFabp4Fpr, gseFabp4Tpr], [gseItln1Fpr, gseItln1Tpr]], gseAuc, 'ROC Curves for GSE', 648, 564, 657);

layout.annotations = annotations;
layout.shapes = shapes;
Plotly.newPlot('fig', traces, layout, {staticPlot: true, displayModeBar: false});
</script>
</body>
</html>
